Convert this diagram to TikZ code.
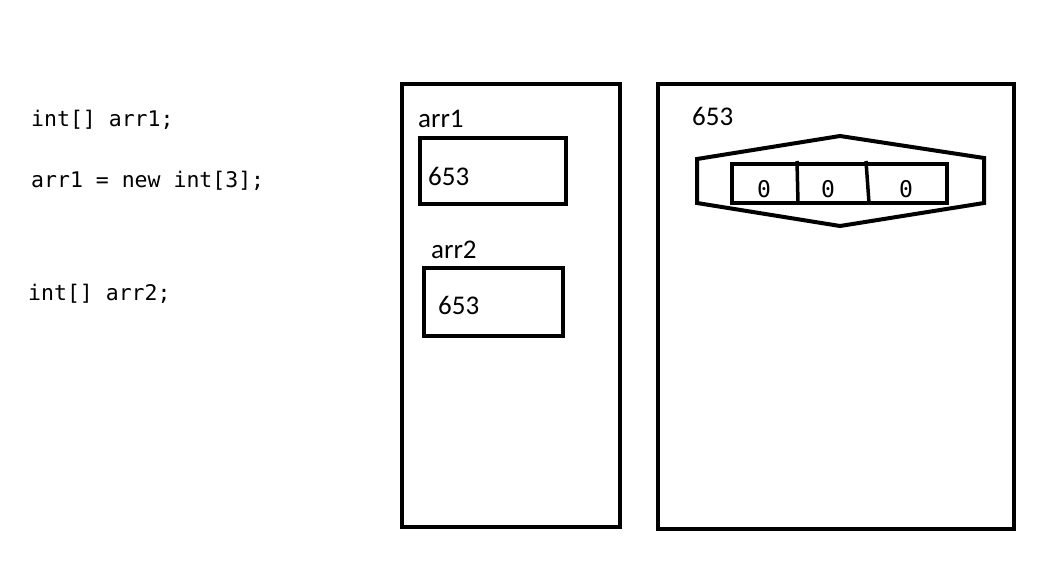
\documentclass[tikz,border=0pt]{standalone}
\usepackage{fontspec}
\setmainfont{Carlito}
\newfontfamily\codefont{DejaVu Sans Mono}
\begin{document}
\begin{tikzpicture}[x=1pt,y=-1pt,
  code/.style={anchor=base west,inner sep=0pt,font=\codefont\fontsize{21.5}{21.5}\selectfont},
  lbl/.style={anchor=base west,inner sep=0pt,font=\fontsize{27}{27}\selectfont},
  zero/.style={anchor=base,inner sep=0pt,font=\codefont\fontsize{23}{23}\selectfont},
  frame/.style={draw=black,line width=4.5pt,inner sep=0pt},
  thick4/.style={line width=4pt,line join=miter}]
\useasboundingbox (0,0) rectangle (1049,567);
% code lines
\node[code] (c1) at (31,127) {int[] arr1;};
\node[code] (c2) at (31,187) {arr1 = new int[3];};
\node[code] (c3) at (28,300.5) {int[] arr2;};
% stack frame
\node[frame,minimum width=218pt,minimum height=443pt] (stack) at (511,305.5) {};
\node[lbl] (l1) at (418,128) {arr1};
\node[frame,minimum width=146pt,minimum height=66pt] (b1) at (493,171) {};
\node[lbl] (v1) at (428,185) {653};
\node[lbl] (l2) at (431,258) {arr2};
\node[frame,minimum width=139pt,minimum height=68pt] (b2) at (493.5,302) {};
\node[lbl] (v2) at (438,314) {653};
% heap
\node[frame,minimum width=356pt,minimum height=445pt] (heap) at (836,306.5) {};
\node[lbl] (addr) at (692,125) {653};
\coordinate (ht) at (840,136);
\coordinate (hrt) at (984,158);
\coordinate (hrb) at (984,203);
\coordinate (hb) at (840,226);
\coordinate (hlb) at (697,203);
\coordinate (hlt) at (697,159);
\draw[thick4] (ht) -- (hrt) -- (hrb) -- (hb) -- (hlb) -- (hlt) -- cycle;
\node[draw,line width=4pt,minimum width=215pt,minimum height=39pt,inner sep=0pt] (arr) at (839.5,183.5) {};
\coordinate (d1t) at (797,161);
\coordinate (d1b) at (798,203);
\coordinate (d2t) at (866,161);
\coordinate (d2b) at (869,203);
\draw[line width=3.5pt] (d1t) -- (d1b);
\draw[line width=3.5pt] (d2t) -- (d2b);
\node[zero] (z1) at (764,197) {0};
\node[zero] (z2) at (828,197) {0};
\node[zero] (z3) at (906,197) {0};
\end{tikzpicture}
\end{document}
